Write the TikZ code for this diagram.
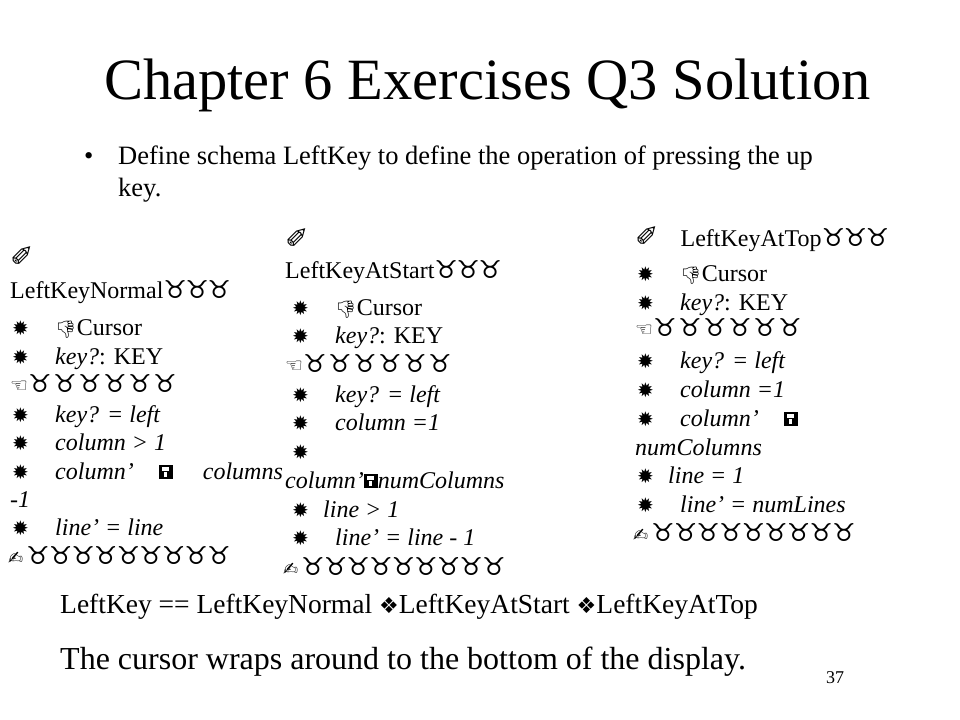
\documentclass[tikz,border=0pt]{standalone}
\usepackage{fontspec}
\usepackage{graphicx}
\setmainfont{Liberation Serif}
\newfontfamily\dvfont{DejaVu Sans}
\newfontfamily\emofont{Noto Emoji}
\newcommand\zTauG{\scalebox{1.2}[1.12]{\dvfont\fontsize{22bp}{22bp}\selectfont ♉}}
\newcommand\zTau{\makebox[22bp][l]{\zTauG}}
\newcommand\zTauW{\makebox[25bp][l]{\zTauG}}
\newcommand\zTauN{\makebox[22.6bp][l]{\zTauG}}
\newcommand\zStarG{{\dvfont\fontsize{20bp}{20bp}\selectfont ✹}}
\newcommand\zStar{\makebox[43bp][l]{\zStarG}}
\newcommand\zStarS{\makebox[31bp][l]{\zStarG}}
\newcommand\zPen{{\dvfont\fontsize{28bp}{28bp}\selectfont ✐}}
\newcommand\zHand{\makebox[18bp][l]{\dvfont\fontsize{20bp}{20bp}\selectfont ☜}}
\newcommand\zEnd{\makebox[18bp][l]{\dvfont\fontsize{18bp}{18bp}\selectfont ✍}}
\newcommand\zDown{{\emofont\fontsize{17bp}{17bp}\selectfont 👎}}
\newcommand\zDisk{\rlap{\rule{14bp}{14bp}}\rlap{\hspace{3.5bp}\raisebox{8.5bp}{\color{white}\rule{7bp}{3.5bp}}}\rlap{\hspace{5.5bp}\raisebox{2bp}{\color{white}\rule{3bp}{5bp}}}\hspace{14bp}}
\newcommand\zDia{{\dvfont\fontsize{22bp}{22bp}\selectfont ❖}}
\tikzset{
  txt/.style={anchor=base west, inner sep=0pt, font=\fontsize{24bp}{28bp}\selectfont},
  title/.style={anchor=base, inner sep=0pt, font=\fontsize{58.5bp}{66bp}\selectfont},
  body/.style={anchor=base west, inner sep=0pt, font=\fontsize{26.5bp}{30bp}\selectfont},
  defl/.style={anchor=base west, inner sep=0pt, font=\fontsize{27.5bp}{30bp}\selectfont},
  big/.style={anchor=base west, inner sep=0pt, font=\fontsize{32bp}{36bp}\selectfont},
  small/.style={anchor=base west, inner sep=0pt, font=\fontsize{18bp}{20bp}\selectfont}
}
\begin{document}
\begin{tikzpicture}[x=1bp,y=-1bp]
\useasboundingbox[fill=white] (0,0) rectangle (960,720);
% title
\node[title] (ttl) at (487.5,100) {Chapter 6 Exercises Q3 Solution};
\node[body] (bul) at (84,165) {•};
\node[body] (b1) at (118,165) {Define schema LeftKey to define the operation of pressing the up};
\node[body] (b2) at (118,196) {key.};
% left column
\node[txt] (l0) at (10,266) {\zPen};
\node[txt] (l1) at (10,298) {LeftKeyNormal\zTau\zTau\zTau};
\node[txt] (l2) at (12,335) {\zStar\zDown Cursor};
\node[txt] (l3) at (12,364) {\zStar\textit{key?}: KEY};
\node[txt] (l4) at (10,392) {\zHand\zTauW\zTauW\zTauW\zTauW\zTauW\zTauW};
\node[txt] (l5) at (12,422) {\zStar\textit{key? = left}};
\node[txt] (l6) at (12,450) {\zStar\textit{column > 1}};
\node[txt] (l7) at (12,479) {\zStar\textit{column'}\hspace{25bp}\zDisk\hspace{30bp}\textit{columns}};
\node[txt] (l8) at (10,507) {\textit{-1}};
\node[txt] (l9) at (12,535) {\zStar\textit{line' = line}};
\node[txt] (l10) at (8,564) {\zEnd\zTauN\zTauN\zTauN\zTauN\zTauN\zTauN\zTauN\zTauN\zTauN};
% middle column
\node[txt] (m0) at (285,248) {\zPen};
\node[txt] (m1) at (285,278) {LeftKeyAtStart\zTau\zTau\zTau};
\node[txt] (m2) at (292,315) {\zStar\zDown Cursor};
\node[txt] (m3) at (292,343) {\zStar\textit{key?}: KEY};
\node[txt] (m4) at (285,372) {\zHand\zTauW\zTauW\zTauW\zTauW\zTauW\zTauW};
\node[txt] (m5) at (292,402) {\zStar\textit{key? = left}};
\node[txt] (m6) at (292,430) {\zStar\textit{column =1}};
\node[txt] (m7) at (292,459) {\zStarG};
\node[txt] (m8) at (285,488) {\textit{column'}\zDisk\textit{numColumns}};
\node[txt] (m9) at (292,517) {\zStarS\textit{line > 1}};
\node[txt] (m10) at (292,545) {\zStar\textit{line' = line} - \textit{1}};
\node[txt] (m11) at (283,575) {\zEnd\zTauN\zTauN\zTauN\zTauN\zTauN\zTauN\zTauN\zTauN\zTauN};
% right column
\node[txt] (r0) at (635,246) {\zPen\hspace{22bp}LeftKeyAtTop\zTau\zTau\zTau};
\node[txt] (r1) at (637,281) {\zStar\zDown Cursor};
\node[txt] (r2) at (637,310) {\zStar\textit{key?}: KEY};
\node[txt] (r3) at (635,336) {\zHand\zTauW\zTauW\zTauW\zTauW\zTauW\zTauW};
\node[txt] (r4) at (637,368) {\zStar\textit{key? = left}};
\node[txt] (r5) at (637,397) {\zStar\textit{column =1}};
\node[txt] (r6) at (637,426) {\zStar\textit{column'}\hspace{25bp}\zDisk};
\node[txt] (r7) at (635,455) {\textit{numColumns}};
\node[txt] (r8) at (637,483) {\zStarS\textit{line = 1}};
\node[txt] (r9) at (637,512) {\zStar\textit{line' = numLines}};
\node[txt] (r10) at (633,541) {\zEnd\zTauN\zTauN\zTauN\zTauN\zTauN\zTauN\zTauN\zTauN\zTauN};
% bottom
\node[defl] (def) at (60,613) {LeftKey == LeftKeyNormal \zDia LeftKeyAtStart \zDia LeftKeyAtTop};
\node[big] (wrap) at (60,669) {The cursor wraps around to the bottom of the display.};
\node[small] (pg) at (826,683) {37};
\end{tikzpicture}
\end{document}
